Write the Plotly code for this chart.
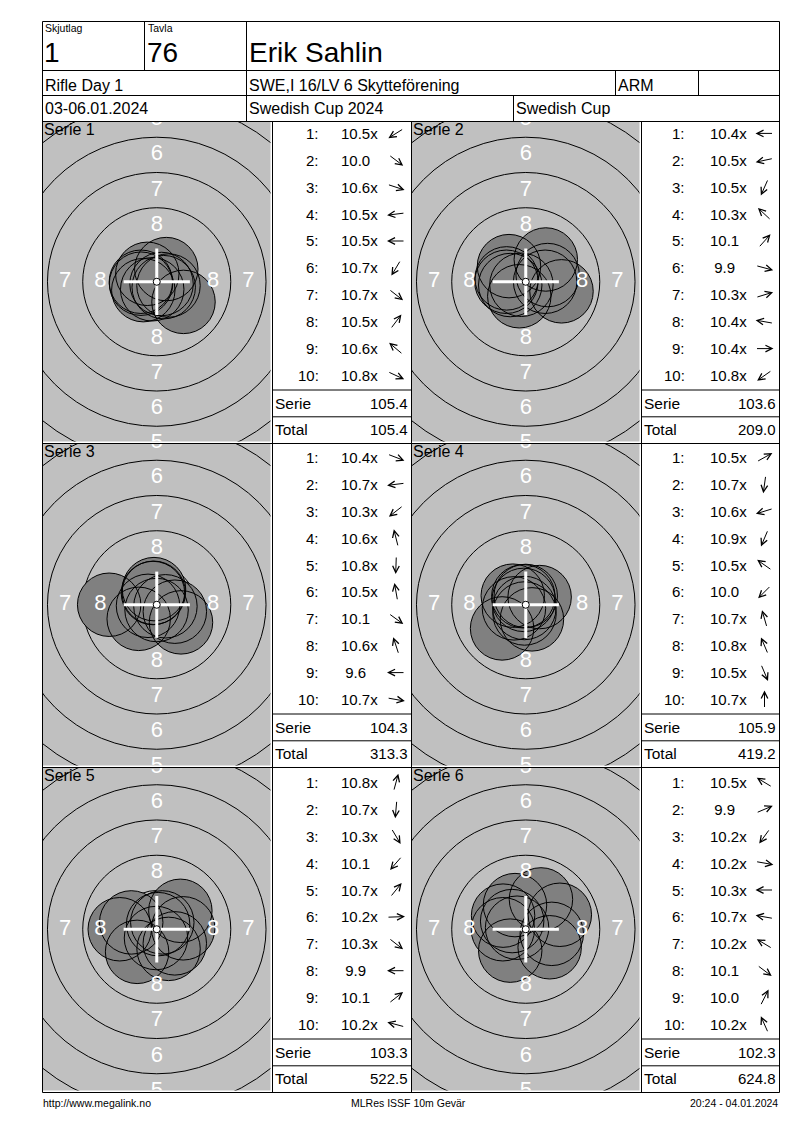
import plotly.graph_objects as go
import numpy as np

# header of the result sheet
squad_label, squad = "Skjutlag", "1"
lane_label, lane = "Tavla", "76"
shooter = "Erik Sahlin"
event = "Rifle Day 1"
club = "SWE,I 16/LV 6 Skytteförening"
shooter_class = "ARM"
dates = "03-06.01.2024"
competition = "Swedish Cup 2024"
cup = "Swedish Cup"
footer_left = "http://www.megalink.no"
footer_mid = "MLRes ISSF 10m Gevär"
footer_right = "20:24 - 04.01.2024"

# decimal scores and arrow directions (degrees, 0 = right, 90 = up) per series
scores_1 = [10.5, 10.0, 10.6, 10.5, 10.5, 10.7, 10.7, 10.5, 10.6, 10.8]
angles_1 = [212, 323, 342, 187, 180, 239, 322, 53, 140, 335]
scores_2 = [10.4, 10.5, 10.5, 10.3, 10.1, 9.9, 10.3, 10.4, 10.4, 10.8]
angles_2 = [180, 192, 246, 137, 48, 345, 17, 170, 0, 215]
scores_3 = [10.4, 10.7, 10.3, 10.6, 10.8, 10.5, 10.1, 10.6, 9.6, 10.7]
angles_3 = [339, 187, 218, 104, 268, 100, 324, 108, 180, 350]
scores_4 = [10.5, 10.7, 10.6, 10.9, 10.5, 10.0, 10.7, 10.8, 10.5, 10.7]
angles_4 = [29, 262, 197, 247, 145, 225, 106, 113, 293, 90]
scores_5 = [10.8, 10.7, 10.3, 10.1, 10.7, 10.2, 10.3, 9.9, 10.1, 10.2]
angles_5 = [75, 265, 301, 229, 51, 2, 322, 180, 38, 165]
scores_6 = [10.5, 9.9, 10.2, 10.2, 10.3, 10.7, 10.2, 10.1, 10.0, 10.2]
angles_6 = [149, 23, 234, 350, 180, 170, 149, 323, 63, 114]

series = [(scores_1, angles_1), (scores_2, angles_2), (scores_3, angles_3),
          (scores_4, angles_4), (scores_5, angles_5), (scores_6, angles_6)]

# ISSF 10m air rifle target (mm)
ring_numbers = [1, 2, 3, 4, 5, 6, 7, 8, 9]
label_rings = [4, 5, 6, 7, 8]
ring10_r = 0.25
ring_step = 2.5
pellet_r = 2.25

W, H = 800, 1130
S = 14.1  # pixels per mm on the drawn target
FONT = "Liberation Sans, Arial, sans-serif"
ROWS = [121.5, 443.5, 767.5, 1092.5]
COLS = [(42.5, 272.5, 411.5), (411.5, 641.5, 779.5)]  # target left, table left, table right
NUM_DX = [47, 44]
SCORE_DX = [67.5, 67]
ARROW_DX = [123.5, 123]


def px(x):
    return x / W


def py(y):
    return 1 - y / H


def ring_r(n):
    return ring10_r + (10 - n) * ring_step


def shot_dist(s):
    return max(11 - s - 0.05, 0.1) * ring_step


shapes = []
annotations = []


def line(x0, y0, x1, y1):
    shapes.append(dict(type="line", xref="paper", yref="paper", x0=px(x0), x1=px(x1),
                       y0=py(y0), y1=py(y1), line=dict(color="black", width=1)))


def text(x, y, t, size=15, anchor="left"):
    annotations.append(dict(x=px(x), y=py(y), xref="paper", yref="paper", text=t,
                            showarrow=False, xanchor=anchor, yanchor="middle", borderpad=0,
                            font=dict(family=FONT, size=size, color="black")))


# header grid
for y in [21.5, 70.5, 95.5, 121.5, 443.5, 767.5, 1092.5]:
    line(42.5, y, 779.5, y)
line(42.5, 21.5, 42.5, 1092.5)
line(779.5, 21.5, 779.5, 1092.5)
line(144.5, 21.5, 144.5, 70.5)
line(246.5, 21.5, 246.5, 121.5)
line(615.5, 70.5, 615.5, 95.5)
line(698.5, 70.5, 698.5, 95.5)
line(513.5, 95.5, 513.5, 121.5)
for x in [272.5, 411.5, 641.5]:
    line(x, 121.5, x, 1092.5)

text(44, 28, squad_label, 10.5)
text(146.5, 28, lane_label, 10.5)
text(43, 52, squad, 28)
text(146, 52, lane, 28)
text(248, 52, shooter, 28)
text(44, 85, event, 16)
text(248, 85, club, 16)
text(617, 85, shooter_class, 16)
text(44, 109, dates, 16)
text(248, 109, competition, 16)
text(515, 109, cup, 16)
text(42, 1103, footer_left, 10.5)
text(408, 1103, footer_mid, 10.5, "center")
text(779, 1103, footer_right, 10.5, "right")

fig = go.Figure()
layout_axes = {}
total = 0.0
for j, (scores, angles) in enumerate(series):
    row, col = j // 2, j % 2
    top, bot = ROWS[row], ROWS[row + 1]
    tx0, tl, tr = COLS[col]
    gx0, gx1 = tx0 + 0.5, tl - 2
    gy0, gy1 = top + 0.5, bot - 2
    xr = (gx1 - gx0) / 2 / S
    yr = (gy1 - gy0) / 2 / S
    k = "" if j == 0 else str(j + 1)
    xa, ya = "x" + k, "y" + k
    layout_axes["xaxis" + k] = dict(domain=[px(gx0), px(gx1)], range=[-xr, xr], visible=False,
                                    fixedrange=True, anchor=ya)
    layout_axes["yaxis" + k] = dict(domain=[py(gy1), py(gy0)], range=[-yr, yr], visible=False,
                                    fixedrange=True, anchor=xa)

    # rings
    for n in ring_numbers:
        r = ring_r(n)
        shapes.append(dict(type="circle", xref=xa, yref=ya, x0=-r, x1=r, y0=-r, y1=r,
                           layer="below", line=dict(color="black", width=1)))
    # shots: fills first, then every outline on top
    th = np.radians(angles)
    d = np.array([shot_dist(s) for s in scores])
    sx, sy = d * np.cos(th), d * np.sin(th)
    for a, b in zip(sx, sy):
        shapes.append(dict(type="circle", xref=xa, yref=ya, x0=a - pellet_r, x1=a + pellet_r,
                           y0=b - pellet_r, y1=b + pellet_r, layer="below",
                           fillcolor="#808080", line=dict(width=0)))
    for a, b in zip(sx, sy):
        shapes.append(dict(type="circle", xref=xa, yref=ya, x0=a - pellet_r, x1=a + pellet_r,
                           y0=b - pellet_r, y1=b + pellet_r, layer="below",
                           line=dict(color="black", width=1)))

    # ring numbers (only those that reach into the visible part of the target)
    lx, ly, lt = [], [], []
    for n in label_rings:
        r = (ring_r(n) + ring_r(n + 1)) / 2
        for dx, dy in [(0, 1), (0, -1), (-1, 0), (1, 0)]:
            lim = xr if dx else yr
            if r - 0.5 < lim:
                lx.append(dx * r)
                ly.append(dy * r)
                lt.append(str(n))
    fig.add_trace(go.Scatter(x=lx, y=ly, text=lt, mode="text", xaxis=xa, yaxis=ya,
                             textfont=dict(family=FONT, size=22, color="white"),
                             cliponaxis=True, hoverinfo="skip", showlegend=False))

    # centre cross and ten ring
    c = 2.35
    shapes.append(dict(type="line", xref=xa, yref=ya, x0=-c, x1=c, y0=0, y1=0,
                       line=dict(color="white", width=3)))
    shapes.append(dict(type="line", xref=xa, yref=ya, x0=0, x1=0, y0=-c, y1=c,
                       line=dict(color="white", width=3)))
    shapes.append(dict(type="circle", xref=xa, yref=ya, x0=-ring10_r, x1=ring10_r,
                       y0=-ring10_r, y1=ring10_r, fillcolor="white",
                       line=dict(color="black", width=1)))

    text(tx0 + 0.5, top + 8, "Serie %d" % (j + 1), 16)

    # shot list
    for i, (s, ang) in enumerate(zip(scores, angles)):
        y = bot - 68 - (9 - i) * 26.9
        text(tl + NUM_DX[col], y, "%d:" % (i + 1), 15, "right")
        lab = "%.1f" % s + ("x" if s >= 10.2 else "")
        if s < 10:
            lab = "\u00a0" + lab
        text(tl + SCORE_DX[col], y, lab, 15)
        t = np.radians(ang)
        L = 18
        cx = tl + ARROW_DX[col]
        hx, hy = cx + L / 2 * np.cos(t), y - L / 2 * np.sin(t)
        annotations.append(dict(x=px(hx), y=py(hy), xref="paper", yref="paper", text="",
                                ax=float(-L * np.cos(t)), ay=float(L * np.sin(t)),
                                showarrow=True, arrowhead=5, arrowsize=1.3, arrowwidth=1,
                                arrowcolor="black", standoff=0, startstandoff=0))

    serie = round(sum(scores), 1)
    total = round(total + serie, 1)
    line(tl, bot - 53.5, tr, bot - 53.5)
    line(tl, bot - 26.7, tr, bot - 26.7)
    text(tl + 1.5, bot - 40.3, "Serie", 15.5)
    text(tr - 2.5, bot - 40.3, "%.1f" % serie, 15, "right")
    text(tl + 1.5, bot - 14.2, "Total", 15.5)
    text(tr - 2.5, bot - 14.2, "%.1f" % total, 15, "right")

fig.update_layout(width=W, height=H, margin=dict(l=0, r=0, t=0, b=0),
                  paper_bgcolor="white", plot_bgcolor="#c0c0c0",
                  showlegend=False, shapes=shapes, annotations=annotations,
                  **layout_axes)
fig.write_html("out.html", config={"displayModeBar": False},
               post_script="document.body.style.margin='0';")
